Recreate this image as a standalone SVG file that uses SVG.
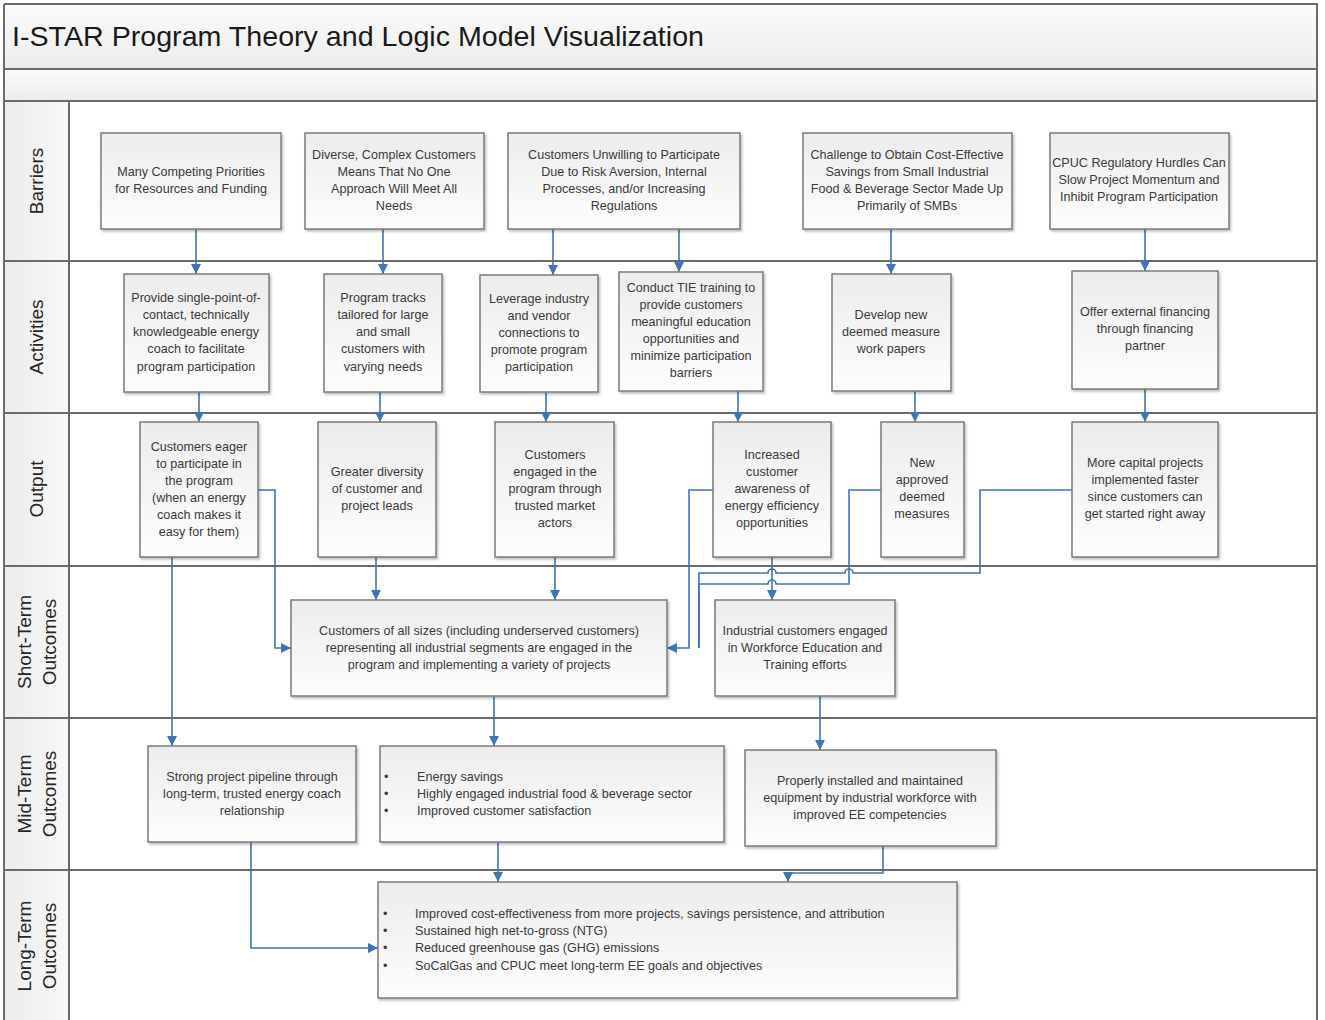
<svg xmlns="http://www.w3.org/2000/svg" width="1325" height="1020" viewBox="0 0 1325 1020">
<style>
.lane{stroke:#6b6b6b;stroke-width:2;fill:none}
.box{fill:url(#bg);stroke:#7a7a7a;stroke-width:1.5;filter:url(#sh)}
.t{font-family:"Liberation Sans",Arial,sans-serif;font-size:12.6px;fill:#3a3a3a;text-anchor:middle}
.tl{font-family:"Liberation Sans",Arial,sans-serif;font-size:12.6px;fill:#3a3a3a}
.lab{font-family:"Liberation Sans",Arial,sans-serif;font-size:19px;fill:#262626;text-anchor:middle}
.c{stroke:#3f74b5;stroke-width:1.6;fill:none}
.ca{stroke:#3f74b5;stroke-width:1.6;fill:none;marker-end:url(#arr)}
</style>
<defs>
<linearGradient id="bg" x1="0" y1="0" x2="0" y2="1"><stop offset="0" stop-color="#ececec"/><stop offset="1" stop-color="#fdfdfd"/></linearGradient>
<linearGradient id="hg" x1="0" y1="0" x2="0" y2="1"><stop offset="0" stop-color="#fbfbfb"/><stop offset="1" stop-color="#ececec"/></linearGradient>
<linearGradient id="lg" x1="0" y1="0" x2="1" y2="0"><stop offset="0" stop-color="#ececec"/><stop offset="1" stop-color="#f8f8f8"/></linearGradient>
<filter id="sh" x="-10%" y="-10%" width="120%" height="130%"><feDropShadow dx="1.5" dy="2" stdDeviation="1.2" flood-color="#000" flood-opacity="0.25"/></filter>
<marker id="arr" viewBox="0 0 10 10" refX="10" refY="5" markerWidth="11" markerHeight="10" orient="auto" markerUnits="userSpaceOnUse"><path d="M0,0 L10,5 L0,10 z" fill="#3f74b5"/></marker>
</defs>
<rect x="0" y="0" width="1325" height="1020" fill="#fff"/>
<g id="frame">
<rect x="4" y="4" width="1313" height="65" fill="url(#hg)"/>
<rect x="4" y="69" width="1313" height="32" fill="url(#hg)"/>
<rect x="4" y="101" width="65" height="920" fill="url(#lg)"/>
<path class="lane" d="M4,4 H1317 V1021 M4,4 V1021 M4,69 H1317 M4,101 H1317 M4,261 H1317 M4,413 H1317 M4,566 H1317 M4,718 H1317 M4,870 H1317 M69,101 V1021"/>
<text x="12" y="46" font-family="Liberation Sans,Arial,sans-serif" font-size="28" fill="#1a1a1a" textLength="692" lengthAdjust="spacingAndGlyphs">I-STAR Program Theory and Logic Model Visualization</text>
<text class="lab" transform="translate(43,181) rotate(-90)">Barriers</text>
<text class="lab" transform="translate(43,337) rotate(-90)">Activities</text>
<text class="lab" transform="translate(43,489) rotate(-90)">Output</text>
<text class="lab" transform="translate(31,642) rotate(-90)">Short-Term</text>
<text class="lab" transform="translate(56,642) rotate(-90)">Outcomes</text>
<text class="lab" transform="translate(31,794) rotate(-90)">Mid-Term</text>
<text class="lab" transform="translate(56,794) rotate(-90)">Outcomes</text>
<text class="lab" transform="translate(31,946) rotate(-90)">Long-Term</text>
<text class="lab" transform="translate(56,946) rotate(-90)">Outcomes</text>
</g>
<g id="connectors">
<path class="ca" d="M196,229 V274"/>
<path class="ca" d="M383,229 V274"/>
<path class="ca" d="M553,229 V275"/>
<path class="ca" d="M679,229 V272"/>
<path class="ca" d="M891,229 V274"/>
<path class="ca" d="M1145,229 V271"/>
<path class="ca" d="M199,392 V422"/>
<path class="ca" d="M380,392 V422"/>
<path class="ca" d="M546,392 V422"/>
<path class="ca" d="M738,391 V422"/>
<path class="ca" d="M915,391 V422"/>
<path class="ca" d="M1145,389 V422"/>
<path class="ca" d="M258,490 H275 V648 H291"/>
<path class="ca" d="M172,557 V746"/>
<path class="ca" d="M376,557 V600"/>
<path class="ca" d="M555,557 V600"/>
<path class="ca" d="M713,490 H689 V648 H667"/>
<path class="ca" d="M772,557 V600"/>
<path class="c" d="M881,490 H849 V584 H776 A4,4 0 0 0 768,584 H699 V648"/>
<path class="c" d="M1072,490 H980 V573 H853 A4,4 0 0 0 845,573 H776 A4,4 0 0 0 768,573 H699 V648"/>
<path class="ca" d="M494,696 V746"/>
<path class="ca" d="M820,696 V750"/>
<path class="ca" d="M251,842 V948 H378"/>
<path class="ca" d="M498,842 V882"/>
<path class="ca" d="M883,846 V873 H788 V882"/>
</g>
<g id="b1"><rect class="box" x="101" y="133" width="180" height="96"/><text class="t"><tspan x="191" y="176">Many Competing Priorities</tspan><tspan x="191" y="193">for Resources and Funding</tspan></text></g>
<g id="b2"><rect class="box" x="305" y="133" width="179" height="96"/><text class="t"><tspan x="394" y="159">Diverse, Complex Customers</tspan><tspan x="394" y="176">Means That No One</tspan><tspan x="394" y="193">Approach Will Meet All</tspan><tspan x="394" y="210">Needs</tspan></text></g>
<g id="b3"><rect class="box" x="508" y="133" width="232" height="96"/><text class="t"><tspan x="624" y="159">Customers Unwilling to Participate</tspan><tspan x="624" y="176">Due to Risk Aversion, Internal</tspan><tspan x="624" y="193">Processes, and/or Increasing</tspan><tspan x="624" y="210">Regulations</tspan></text></g>
<g id="b4"><rect class="box" x="803" y="133" width="209" height="96"/><text class="t"><tspan x="907" y="159">Challenge to Obtain Cost-Effective</tspan><tspan x="907" y="176">Savings from  Small Industrial</tspan><tspan x="907" y="193">Food &amp; Beverage Sector Made Up</tspan><tspan x="907" y="210">Primarily of SMBs</tspan></text></g>
<g id="b5"><rect class="box" x="1050" y="133" width="179" height="96"/><text class="t"><tspan x="1139" y="167">CPUC Regulatory Hurdles Can</tspan><tspan x="1139" y="184">Slow Project Momentum and</tspan><tspan x="1139" y="201">Inhibit Program Participation</tspan></text></g>
<g id="a1"><rect class="box" x="124" y="274" width="145" height="118"/><text class="t"><tspan x="196" y="302">Provide single-point-of-</tspan><tspan x="196" y="319">contact, technically</tspan><tspan x="196" y="336">knowledgeable energy</tspan><tspan x="196" y="353">coach to facilitate</tspan><tspan x="196" y="371">program participation</tspan></text></g>
<g id="a2"><rect class="box" x="324" y="274" width="118" height="118"/><text class="t"><tspan x="383" y="302">Program tracks</tspan><tspan x="383" y="319">tailored for large</tspan><tspan x="383" y="336">and small</tspan><tspan x="383" y="353">customers with</tspan><tspan x="383" y="371">varying needs</tspan></text></g>
<g id="a3"><rect class="box" x="480" y="275" width="118" height="117"/><text class="t"><tspan x="539" y="303">Leverage industry</tspan><tspan x="539" y="320">and vendor</tspan><tspan x="539" y="337">connections to</tspan><tspan x="539" y="354">promote program</tspan><tspan x="539" y="371">participation</tspan></text></g>
<g id="a4"><rect class="box" x="619" y="272" width="144" height="119"/><text class="t"><tspan x="691" y="292">Conduct TIE training to</tspan><tspan x="691" y="309">provide customers</tspan><tspan x="691" y="326">meaningful education</tspan><tspan x="691" y="343">opportunities and</tspan><tspan x="691" y="360">minimize participation</tspan><tspan x="691" y="377">barriers</tspan></text></g>
<g id="a5"><rect class="box" x="832" y="274" width="119" height="117"/><text class="t"><tspan x="891" y="319">Develop new</tspan><tspan x="891" y="336">deemed measure</tspan><tspan x="891" y="353">work papers</tspan></text></g>
<g id="a6"><rect class="box" x="1072" y="271" width="146" height="118"/><text class="t"><tspan x="1145" y="316">Offer external financing</tspan><tspan x="1145" y="333">through financing</tspan><tspan x="1145" y="350">partner</tspan></text></g>
<g id="o1"><rect class="box" x="140" y="422" width="118" height="135"/><text class="t"><tspan x="199" y="451">Customers eager</tspan><tspan x="199" y="468">to participate in</tspan><tspan x="199" y="485">the program</tspan><tspan x="199" y="502">(when an energy</tspan><tspan x="199" y="519">coach makes it</tspan><tspan x="199" y="536">easy for them)</tspan></text></g>
<g id="o2"><rect class="box" x="318" y="422" width="118" height="135"/><text class="t"><tspan x="377" y="476">Greater diversity</tspan><tspan x="377" y="493">of customer and</tspan><tspan x="377" y="510">project leads</tspan></text></g>
<g id="o3"><rect class="box" x="495" y="422" width="119" height="135"/><text class="t"><tspan x="555" y="459">Customers</tspan><tspan x="555" y="476">engaged in the</tspan><tspan x="555" y="493">program through</tspan><tspan x="555" y="510">trusted market</tspan><tspan x="555" y="527">actors</tspan></text></g>
<g id="o4"><rect class="box" x="713" y="422" width="118" height="135"/><text class="t"><tspan x="772" y="459">Increased</tspan><tspan x="772" y="476">customer</tspan><tspan x="772" y="493">awareness of</tspan><tspan x="772" y="510">energy efficiency</tspan><tspan x="772" y="527">opportunities</tspan></text></g>
<g id="o5"><rect class="box" x="881" y="422" width="83" height="135"/><text class="t"><tspan x="922" y="467">New</tspan><tspan x="922" y="484">approved</tspan><tspan x="922" y="501">deemed</tspan><tspan x="922" y="518">measures</tspan></text></g>
<g id="o6"><rect class="box" x="1072" y="422" width="146" height="135"/><text class="t"><tspan x="1145" y="467">More capital projects</tspan><tspan x="1145" y="484">implemented faster</tspan><tspan x="1145" y="501">since customers can</tspan><tspan x="1145" y="518">get started right away</tspan></text></g>
<g id="s1"><rect class="box" x="291" y="600" width="376" height="96"/><text class="t"><tspan x="479" y="635">Customers of all sizes (including underserved customers)</tspan><tspan x="479" y="652">representing all industrial segments are engaged in the</tspan><tspan x="479" y="669">program and implementing a variety of projects</tspan></text></g>
<g id="s2"><rect class="box" x="715" y="600" width="180" height="96"/><text class="t"><tspan x="805" y="635">Industrial customers engaged</tspan><tspan x="805" y="652">in Workforce Education and</tspan><tspan x="805" y="669">Training efforts</tspan></text></g>
<g id="m1"><rect class="box" x="148" y="746" width="208" height="96"/><text class="t"><tspan x="252" y="781">Strong project pipeline through</tspan><tspan x="252" y="798">long-term, trusted energy coach</tspan><tspan x="252" y="815">relationship</tspan></text></g>
<g id="m2"><rect class="box" x="380" y="746" width="344" height="96"/><text class="tl"><tspan x="384" y="781">•</tspan><tspan x="417" y="781">Energy savings</tspan><tspan x="384" y="798">•</tspan><tspan x="417" y="798">Highly engaged industrial food &amp; beverage sector</tspan><tspan x="384" y="815">•</tspan><tspan x="417" y="815">Improved customer satisfaction</tspan></text></g>
<g id="m3"><rect class="box" x="745" y="750" width="251" height="96"/><text class="t"><tspan x="870" y="785">Properly installed and maintained</tspan><tspan x="870" y="802">equipment by industrial workforce with</tspan><tspan x="870" y="819">improved EE competencies</tspan></text></g>
<g id="l1"><rect class="box" x="378" y="882" width="579" height="116"/><text class="tl"><tspan x="383" y="918">•</tspan><tspan x="415" y="918">Improved cost-effectiveness from more projects, savings persistence, and attribution</tspan><tspan x="383" y="935">•</tspan><tspan x="415" y="935">Sustained high net-to-gross (NTG)</tspan><tspan x="383" y="952">•</tspan><tspan x="415" y="952">Reduced greenhouse gas (GHG) emissions</tspan><tspan x="383" y="970">•</tspan><tspan x="415" y="970">SoCalGas and CPUC meet long-term EE goals and objectives</tspan></text></g>
</svg>
